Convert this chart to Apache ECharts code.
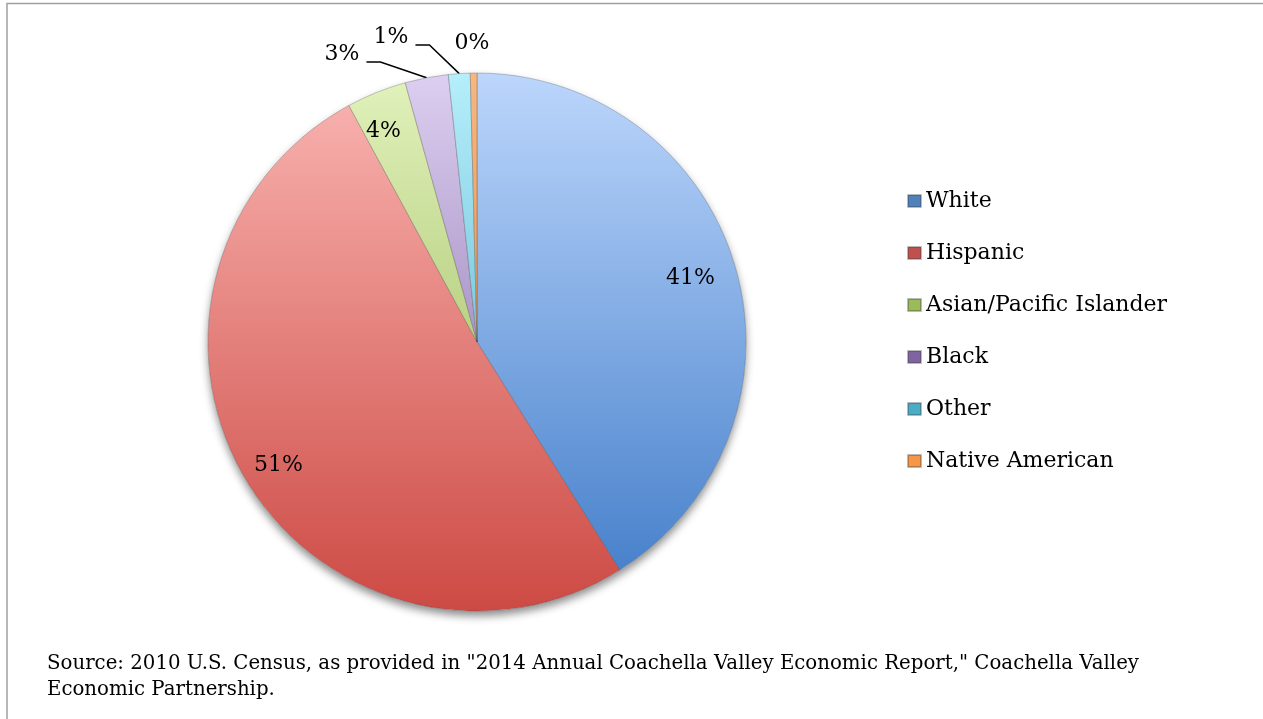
<!DOCTYPE html>
<html>
<head>
<meta charset="utf-8">
<script src="https://cdn.jsdelivr.net/npm/echarts@6/dist/echarts.min.js"></script>
<style>
  html, body { margin: 0; padding: 0; background: #ffffff; }
  #chart { width: 1263px; height: 719px; }
</style>
</head>
<body>
<div id="chart"></div>
<script>
// Population shares by race/ethnicity (percent)
const categories = ['White', 'Hispanic', 'Asian/Pacific Islander', 'Black', 'Other', 'Native American'];
const shares = [41.1, 51.0, 3.6, 2.6, 1.3, 0.4];
const sourceNote = 'Source: 2010 U.S. Census, as provided in "2014 Annual Coachella Valley Economic Report," Coachella Valley\nEconomic Partnership.';

// Slices whose percentage sits outside the pie, with a leader line
const outsideLabels = ['Black', 'Other', 'Native American'];
const noLeaderLine = ['Native American'];

// Office-style palette: legend swatches plus light/dark ends of each slice gradient
const swatchColors = ['#4f81bd', '#c0504d', '#9bbb59', '#8064a2', '#4bacc6', '#f79646'];
const lightEnds = ['#bcd6fc', '#fab6b3', '#e2f2bc', '#dccff0', '#b6eefb', '#f6b783'];
const darkEnds  = ['#3f7bc8', '#cd4a44', '#8fb04a', '#7a5c9e', '#3da3c0', '#df7a2a'];

const CX = 477, CY = 342, R = 269;
const FONT = 'DejaVu Serif';

// Fixed spots for the small outside labels (text centre, px)
const outsideLabelSpot = {
  'Black': [342, 54],
  'Other': [391, 37],
  'Native American': [472, 43]
};
// empty line under each outside label so its leader line meets it near the baseline
const LINE_DROP = 7;

// small shifts for the labels drawn inside the slices
const insideLabelShift = {
  'White': [-4, -1],
  'Hispanic': [-3, 9],
  'Asian/Pacific Islander': [-9, -1]
};

function sliceFill(i) {
  return {
    type: 'linear', x: 0, y: CY - R, x2: 0, y2: CY + R, global: true,
    colorStops: [{ offset: 0, color: lightEnds[i] }, { offset: 1, color: darkEnds[i] }]
  };
}
const pctText = p => Math.round(p.value) + '%';

const mainData = categories.map((name, i) => ({
  name: name,
  value: shares[i],
  itemStyle: { color: sliceFill(i) },
  label: { show: outsideLabels.includes(name) },
  labelLine: { show: outsideLabels.includes(name) && !noLeaderLine.includes(name) }
}));

// Transparent ring used only to place the large labels at ~0.83 of the radius
const ringData = categories.map((name, i) => ({
  name: name,
  value: shares[i],
  label: { show: !outsideLabels.includes(name) }
}));

const chart = echarts.init(document.getElementById('chart'), null, { renderer: 'canvas' });

chart.setOption({
  backgroundColor: '#ffffff',
  animation: false,
  legend: {
    orient: 'vertical',
    left: 907,
    top: 188,
    padding: 0,
    itemWidth: 13,
    itemHeight: 12,
    itemGap: 26,
    icon: 'rect',
    selectedMode: false,
    textStyle: { fontFamily: FONT, fontSize: 22, color: '#000000', lineHeight: 26 },
    data: categories.map((c, i) => ({ name: c, itemStyle: { color: swatchColors[i] } }))
  },
  graphic: [
    {
      type: 'rect', silent: true, z: 0,
      shape: { x: 7, y: 3.5, width: 1400, height: 900 },
      style: { fill: null, stroke: '#a0a0a0', lineWidth: 1.5 }
    },
    {
      type: 'text', left: 47, top: 651, silent: true,
      style: { text: sourceNote, font: '19.75px "DejaVu Serif"', fill: '#000000', lineHeight: 26 }
    }
  ],
  series: [
    {
      // soft drop shadow under the whole pie
      type: 'pie', silent: true, z: 1,
      center: [CX, CY], radius: [0, R],
      label: { show: false }, labelLine: { show: false },
      itemStyle: { color: '#ffffff', shadowBlur: 9, shadowOffsetY: 5, shadowColor: 'rgba(0,0,0,0.45)' },
      data: [{ value: 1, name: '' }]
    },
    {
      name: 'Population', type: 'pie', z: 2,
      center: [CX, CY], radius: [0, R],
      startAngle: 90, clockwise: true,
      avoidLabelOverlap: false,
      itemStyle: { borderColor: 'rgba(60,60,60,0.35)', borderWidth: 0.8 },
      label: {
        position: 'outside',
        formatter: p => '{v|\u00a0' + pctText(p) + '\u00a0}\n{gap|}',
        rich: {
          v: { fontFamily: FONT, fontSize: 22, color: '#000000', lineHeight: 26 },
          gap: { height: LINE_DROP * 2, lineHeight: LINE_DROP * 2, fontSize: 1 }
        }
      },
      labelLine: { length: 10, length2: 14, smooth: false, lineStyle: { color: '#000000', width: 1.5 } },
      labelLayout: function (params) {
        const spot = outsideLabelSpot[categories[params.dataIndex]];
        if (!spot) return {};
        return { x: spot[0], y: spot[1] + LINE_DROP, align: 'center', verticalAlign: 'middle' };
      },
      emphasis: { disabled: true },
      data: mainData
    },
    {
      type: 'pie', z: 3, silent: true,
      center: [CX, CY], radius: [R * 0.66, R],
      startAngle: 90, clockwise: true,
      avoidLabelOverlap: false,
      itemStyle: { color: 'rgba(0,0,0,0)', borderWidth: 0 },
      label: { position: 'inside', formatter: pctText, fontFamily: FONT, fontSize: 22, color: '#000000' },
      labelLine: { show: false },
      labelLayout: function (params) {
        const s = insideLabelShift[categories[params.dataIndex]];
        return s ? { dx: s[0], dy: s[1] } : {};
      },
      emphasis: { disabled: true },
      data: ringData
    }
  ]
});
</script>
</body>
</html>
